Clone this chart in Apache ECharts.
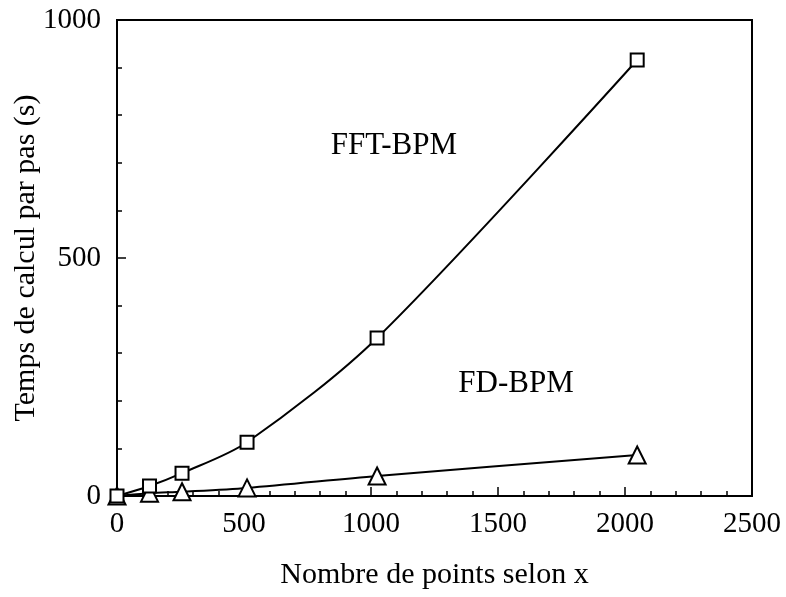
<!DOCTYPE html>
<html><head><meta charset="utf-8">
<script src="https://cdn.jsdelivr.net/npm/echarts@6/dist/echarts.min.js"></script>
<style>html,body{margin:0;padding:0;background:#fff}#c{width:786px;height:597px}</style>
</head><body><div id="c"></div>
<script>
const xPoints = [0, 128, 256, 512, 1024, 2048];
const fftValues = [0, 21, 48, 113, 332, 916];
const fdValues = [0, 6, 9, 17, 42, 86];
const xTicks = [0, 500, 1000, 1500, 2000, 2500];
const yTicks = [0, 500, 1000];
const seriesLabels = [{name: 'FFT-BPM', x: 1090, y: 735}, {name: 'FD-BPM', x: 1571, y: 235}];

const font = 'Liberation Serif';
const chart = echarts.init(document.getElementById('c'));
const axisCommon = {
  axisLine: {show: true, onZero: false, lineStyle: {color: '#000', width: 2}},
  axisTick: {show: true, inside: true, length: 9, lineStyle: {color: '#000', width: 1.5}},
  minorTick: {show: true, splitNumber: 5, length: 5, lineStyle: {color: '#000', width: 1.5}},
  splitLine: {show: false},
  axisLabel: {color: '#000', fontFamily: font, fontSize: 29, formatter: v => String(v), hideOverlap: false},
  nameTextStyle: {color: '#000', fontFamily: font, fontSize: 30},
  nameMoveOverlap: false
};
chart.setOption({
  animation: false,
  backgroundColor: '#fff',
  grid: {left: 117, top: 20, right: 34, bottom: 101, show: true, borderColor: '#000', borderWidth: 2,
         containLabel: false, outerBoundsMode: 'none'},
  xAxis: Object.assign({}, axisCommon, {
    type: 'value', min: xTicks[0], max: xTicks[xTicks.length - 1], interval: 500,
    name: 'Nombre de points selon x', nameLocation: 'middle', nameGap: 64,
    axisLabel: Object.assign({}, axisCommon.axisLabel, {margin: 14})
  }),
  yAxis: Object.assign({}, axisCommon, {
    type: 'value', min: yTicks[0], max: yTicks[yTicks.length - 1], interval: 500,
    name: 'Temps de calcul par pas (s)', nameLocation: 'middle', nameGap: 76,
    axisLabel: Object.assign({}, axisCommon.axisLabel, {margin: 16})
  }),
  series: [
    {type: 'line', smooth: 0.3, data: xPoints.map((x, i) => [x, fftValues[i]]),
     symbol: 'rect', symbolSize: 13, showAllSymbol: true, z: 3,
     itemStyle: {color: '#fff', borderColor: '#000', borderWidth: 2},
     lineStyle: {color: '#000', width: 2}},
    {type: 'line', smooth: 0.3, data: xPoints.map((x, i) => [x, fdValues[i]]),
     symbol: 'triangle', symbolSize: 17, showAllSymbol: true, z: 2,
     itemStyle: {color: '#fff', borderColor: '#000', borderWidth: 2},
     lineStyle: {color: '#000', width: 2}},
    {type: 'scatter', symbolSize: 1, silent: true, itemStyle: {opacity: 0},
     data: seriesLabels.map(l => ({value: [l.x, l.y], name: l.name})),
     label: {show: true, position: 'inside', formatter: p => p.name, color: '#000', opacity: 1, fontFamily: font, fontSize: 31}}
  ]
});
</script></body></html>
